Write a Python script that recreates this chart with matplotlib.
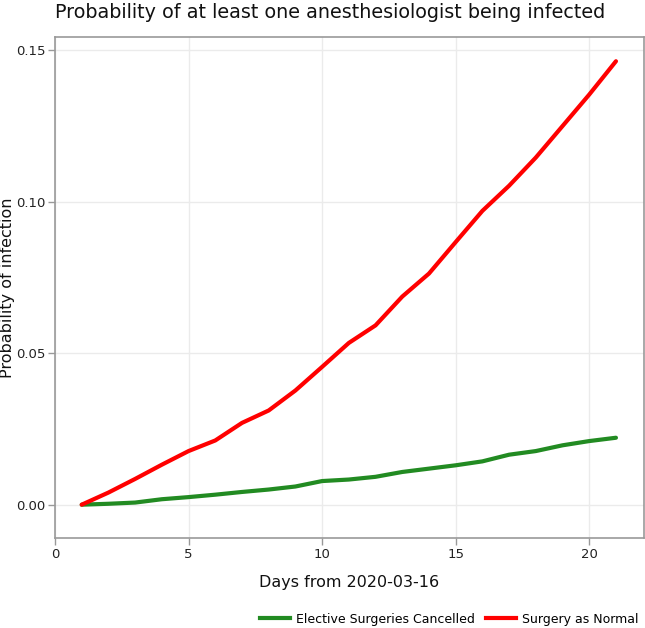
import matplotlib
matplotlib.use("Agg")
import matplotlib.pyplot as plt
from matplotlib.lines import Line2D

days = list(range(1, 22))
cancelled = [0.0, 0.0003, 0.0007, 0.0018, 0.0025, 0.0033, 0.0042, 0.0050, 0.0060, 0.0078,
             0.0083, 0.0092, 0.0108, 0.0119, 0.0130, 0.0143, 0.0165, 0.0177, 0.0196, 0.0210, 0.0221]
normal = [0.0, 0.0040, 0.0085, 0.0132, 0.0177, 0.0212, 0.0270, 0.0311, 0.0377, 0.0455,
          0.0534, 0.0592, 0.0687, 0.0763, 0.0867, 0.0970, 0.1053, 0.1146, 0.1250, 0.1354, 0.1464]
series_names = ["Elective Surgeries Cancelled", "Surgery as Normal"]
series_colors = ["#228b22", "#ff0000"]
xticks = [0, 5, 10, 15, 20]
yticks = [0.0, 0.05, 0.10, 0.15]
ytick_labels = ["0.00", "0.05", "0.10", "0.15"]

W, H = 645, 628
plt.rcParams['font.family'] = ['DejaVu Sans']
fig = plt.figure(figsize=(W/100, H/100), dpi=100)
ax = fig.add_axes([55/W, 1 - 538/H, (644-55)/W, (538-37)/H])

ax.plot(days, cancelled, color=series_colors[0], lw=3, solid_capstyle='round', zorder=3)
ax.plot(days, normal, color=series_colors[1], lw=3, solid_capstyle='round', zorder=4)

ax.set_xlim(0, 22.05)
ax.set_ylim(-0.011, 0.1544)
ax.set_xticks(xticks)
ax.set_yticks(yticks)
ax.set_yticklabels(ytick_labels)
ax.grid(True, color="#ebebeb", lw=1)
ax.set_axisbelow(True)
for s in ax.spines.values():
    s.set_color("#999999")
    s.set_linewidth(1.2)
ax.tick_params(axis='both', colors="#999999", labelcolor="#222222", labelsize=9.5, length=5, width=1)
ax.tick_params(axis='x', pad=2)
ax.tick_params(axis='y', pad=2)

ax.set_xlabel("Days from 2020-03-16", fontsize=11.5, color="#111111")
ax.xaxis.set_label_coords(0.5, -(583 - 538) / (538 - 37), transform=ax.transAxes)
ax.xaxis.label.set_va('center')
ax.set_ylabel("Probability of infection", fontsize=11.5, color="#111111")
ax.yaxis.set_label_coords(-(55 - 8) / (644 - 55), 0.5)
ax.yaxis.label.set_va('center')
fig.text(330/W, 1 - 12/H, "Probability of at least one anesthesiologist being infected",
         ha='center', va='center', fontsize=13.75, color="#111111")

handles = [Line2D([0], [0], color=c, lw=3) for c in series_colors]
fig.legend(handles, series_names, loc='center right', bbox_to_anchor=(1.0, 1 - 619/H),
           ncol=2, frameon=False, fontsize=9, handlelength=2.4, columnspacing=0.9,
           handletextpad=0.5, borderaxespad=0.1)

fig.savefig("out.png", dpi=100)
